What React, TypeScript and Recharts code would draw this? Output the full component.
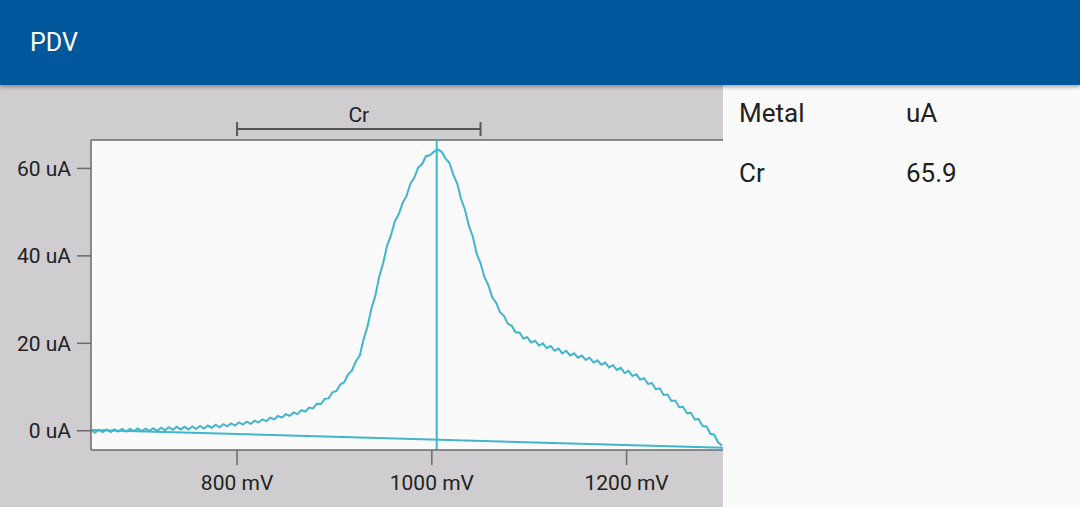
import { LineChart, Line, XAxis, YAxis, CartesianGrid, ReferenceLine } from "recharts";

// voltage sweep: first point and step (mV)
const sweepStart = 650;
const sweepStep = 4;

// measured current (uA), one value per sweep step
const current = [
  0.1, -0.4, 0.2, -0.3, 0.3, -0.3, 0.3, -0.2, 0.4, -0.2,
  0.4, -0.1, 0.5, -0.1, 0.5, 0.0, 0.6, 0.0, 0.7, 0.1,
  0.8, 0.2, 0.9, 0.3, 0.9, 0.3, 1.0, 0.4, 1.1, 0.5,
  1.2, 0.7, 1.4, 0.8, 1.5, 1.0, 1.7, 1.2, 1.9, 1.4,
  2.1, 1.6, 2.3, 1.9, 2.6, 2.2, 3.0, 2.6, 3.4, 3.0,
  3.8, 3.4, 4.2, 3.8, 4.7, 4.4, 5.3, 5.1, 6.2, 6.1,
  7.3, 7.4, 8.8, 9.1, 10.6, 11.1, 12.9, 13.8, 15.9, 17.2,
  21.0, 23.9, 28.0, 30.9, 35.3, 38.3, 42.3, 44.7, 47.9, 49.5,
  52.1, 53.7, 56.5, 57.9, 60.2, 61.0, 62.8, 63.0, 63.8, 64.4,
  63.8, 62.3, 61.3, 58.6, 56.6, 53.0, 50.6, 46.9, 44.5, 40.5,
  38.3, 35.2, 33.3, 30.5, 29.3, 27.1, 26.3, 24.5, 24.0, 22.5,
  22.5, 21.1, 21.4, 20.2, 20.6, 19.5, 20.0, 18.9, 19.4, 18.3,
  18.8, 17.7, 18.3, 17.2, 17.7, 16.7, 17.2, 16.2, 16.7, 15.6,
  16.1, 15.1, 15.6, 14.5, 15.0, 13.9, 14.4, 13.2, 13.7, 12.5,
  12.9, 11.7, 12.0, 10.7, 10.9, 9.5, 9.7, 8.2, 8.3, 6.8,
  6.9, 5.4, 5.5, 4.0, 4.1, 2.6, 2.7, 1.1, 1.0, -0.7,
  -0.9, -2.7, -3.4,
];

// baseline drawn under the peak (mV, uA)
const baselineMv = [650, 1299];
const baselineUa = [0.2, -3.9];

// detected peak
const peakMetal = "Cr";
const peakPotential = 1005;
const peakWindow = [800, 1050];
const peakHeight = "65.9";

const xTicks = [800, 1000, 1200];
const yTicks = [0, 20, 40, 60];
const xDomain = [650, 1299];
const yDomain = [-4.4, 66.5];

const trace = current.map((ua, i) => ({ mv: sweepStart + i * sweepStep, ua }));
const baseline = baselineMv.map((mv, i) => ({ mv, ua: baselineUa[i] }));

const lineColor = "#41b5cd";
const axisColor = "#6a6a6a";
const font = "Roboto, sans-serif";

export default function App() {
  const yMax = yDomain[1];
  const barY = yMax + 2.5;
  return (
    <div
      style={{
        position: "absolute",
        left: 0,
        top: 0,
        width: 1080,
        height: 507,
        background: "#fafafa",
        fontFamily: font,
        overflow: "hidden",
      }}
    >
      <div
        style={{
          position: "absolute",
          left: 0,
          top: 85,
          width: 723,
          height: 422,
          background: "#cfcdd0",
        }}
      >
        <LineChart
          width={723}
          height={422}
          margin={{ top: 55, right: 0, bottom: 0, left: 0 }}
        >
          <CartesianGrid horizontal={false} vertical={false} fill="#fafafa" />
          <XAxis
            type="number"
            dataKey="mv"
            domain={xDomain}
            ticks={xTicks}
            allowDataOverflow
            height={57}
            tickSize={15}
            tickMargin={10}
            tickFormatter={(v) => `${v} mV`}
            stroke={axisColor}
            strokeWidth={1.5}
            tick={{ fill: "#222", fontSize: 21, fontFamily: font }}
          />
          <YAxis
            type="number"
            dataKey="ua"
            domain={yDomain}
            ticks={yTicks}
            allowDataOverflow
            width={91}
            tickSize={14}
            tickMargin={6}
            tickFormatter={(v) => `${v} uA`}
            stroke={axisColor}
            strokeWidth={1.5}
            tick={{ fill: "#222", fontSize: 21, fontFamily: font }}
          />
          <ReferenceLine y={yMax} stroke={axisColor} strokeWidth={1.5} />
          <Line
            data={baseline}
            dataKey="ua"
            type="linear"
            stroke={lineColor}
            strokeWidth={2}
            dot={false}
            isAnimationActive={false}
          />
          <Line
            data={trace}
            dataKey="ua"
            type="linear"
            stroke={lineColor}
            strokeWidth={2}
            dot={false}
            isAnimationActive={false}
          />
          <ReferenceLine x={peakPotential} stroke={lineColor} strokeWidth={2} />
          <ReferenceLine
            segment={[
              { x: peakWindow[0], y: barY },
              { x: peakWindow[1], y: barY },
            ]}
            ifOverflow="visible"
            stroke="#555"
            strokeWidth={2}
            label={{
              value: peakMetal,
              position: "top",
              offset: 7,
              fill: "#222",
              fontSize: 21,
              fontFamily: font,
            }}
          />
          <ReferenceLine
            segment={[
              { x: peakWindow[0], y: barY - 1.6 },
              { x: peakWindow[0], y: barY + 1.6 },
            ]}
            ifOverflow="visible"
            stroke="#555"
            strokeWidth={2}
          />
          <ReferenceLine
            segment={[
              { x: peakWindow[1], y: barY - 1.6 },
              { x: peakWindow[1], y: barY + 1.6 },
            ]}
            ifOverflow="visible"
            stroke="#555"
            strokeWidth={2}
          />
        </LineChart>
      </div>

      <div
        style={{
          position: "absolute",
          left: 0,
          top: 0,
          width: 1080,
          height: 85,
          background: "#01579b",
          boxShadow: "0 2px 4px rgba(0,0,0,0.35)",
          zIndex: 2,
        }}
      >
        <div
          style={{
            position: "absolute",
            left: 30,
            top: 28,
            color: "#ffffff",
            fontSize: 25,
            lineHeight: "30px",
          }}
        >
          PDV
        </div>
      </div>

      <div style={{ position: "absolute", left: 739, top: 97, fontSize: 26, lineHeight: "32px", color: "#212121" }}>
        Metal
      </div>
      <div style={{ position: "absolute", left: 906, top: 97, fontSize: 26, lineHeight: "32px", color: "#212121" }}>
        uA
      </div>
      <div style={{ position: "absolute", left: 739, top: 157, fontSize: 26, lineHeight: "32px", color: "#212121" }}>
        {peakMetal}
      </div>
      <div style={{ position: "absolute", left: 906, top: 157, fontSize: 26, lineHeight: "32px", color: "#212121" }}>
        {peakHeight}
      </div>
    </div>
  );
}
